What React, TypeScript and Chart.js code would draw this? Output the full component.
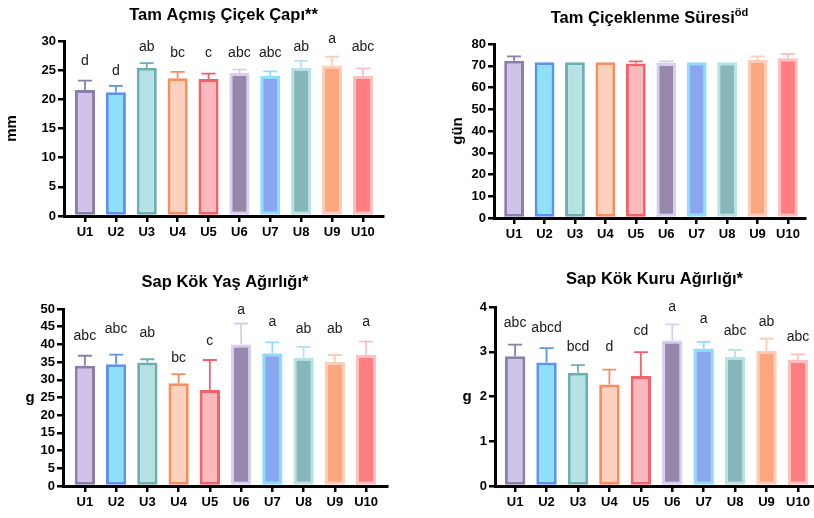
import React, { useEffect, useRef } from "react";
import { Chart, registerables } from "chart.js";

Chart.register(...registerables);

// ---------- data ----------
const categories = ["U1", "U2", "U3", "U4", "U5", "U6", "U7", "U8", "U9", "U10"];

const fills = ["#CFC3E7", "#8EE0FD", "#B7E2E4", "#FCD1BD", "#FDB9BB", "#9688AB", "#89A6EF", "#86B8BB", "#FCA680", "#FF7F80"];
const borders = ["#8C7DAA", "#5C93F2", "#6BAFB1", "#FA8D5E", "#F4616B", "#D9CEF2", "#8FDDFC", "#B8E3E5", "#FDCDB7", "#FFBFC0"];

// Tam Açmış Çiçek Çapı (mm)
const diameterMeans = [21.6, 21.2, 25.4, 23.6, 23.5, 24.5, 24.0, 25.4, 25.8, 24.0];
const diameterErrors = [1.6, 1.1, 0.8, 1.1, 0.9, 0.6, 0.8, 1.2, 1.5, 1.3];
const diameterLetters = ["d", "d", "ab", "bc", "c", "abc", "abc", "ab", "a", "abc"];
const diameterLetterLevels = [26.5, 24.9, 29.0, 28.0, 27.9, 27.9, 28.0, 29.0, 30.4, 29.0];
const diameterTicks = { max: 30, step: 5 };

// Tam Çiçeklenme Süresi (gün)
const floweringMeans = [72.3, 71.6, 71.6, 71.6, 71.0, 71.3, 71.6, 71.6, 72.6, 73.4];
const floweringErrors = [2.0, 0, 0, 0, 1.0, 0.7, 0, 0, 1.7, 2.0];
const floweringTicks = { max: 80, step: 10 };

// Sap Kök Yaş Ağırlığı (g)
const freshMeans = [34.0, 34.4, 34.9, 29.0, 27.1, 40.0, 37.5, 36.2, 35.0, 37.0];
const freshErrors = [2.8, 2.7, 0.9, 2.6, 8.5, 5.9, 3.1, 3.1, 2.0, 3.8];
const freshLetters = ["abc", "abc", "ab", "bc", "c", "a", "a", "ab", "ab", "a"];
const freshLetterLevels = [42.4, 44.2, 43.1, 36.0, 40.9, 49.7, 46.4, 44.2, 44.2, 46.4];
const freshTicks = { max: 50, step: 5 };

// Sap Kök Kuru Ağırlığı (g)
const dryMeans = [2.9, 2.76, 2.53, 2.27, 2.46, 3.25, 3.07, 2.88, 3.02, 2.82];
const dryErrors = [0.26, 0.32, 0.17, 0.33, 0.53, 0.36, 0.15, 0.16, 0.27, 0.12];
const dryLetters = ["abc", "abcd", "bcd", "d", "cd", "a", "a", "abc", "ab", "abc"];
const dryLetterLevels = [3.63, 3.53, 3.11, 3.11, 3.46, 4.0, 3.72, 3.46, 3.66, 3.33];
const dryTicks = { max: 4, step: 1 };

// ---------- layout ----------
const FONT = '"Liberation Sans", Arial, Helvetica, sans-serif';
const W = 407;
const H = 259;

type Panel = {
  key: string;
  left: number;
  top: number;
  title: string;
  sup?: string;
  titleBaseline: number;
  yLabel: string;
  yLabelRotated: boolean;
  yLabelX: number;
  means: number[];
  errors: number[];
  letters?: string[];
  letterLevels?: number[];
  yMax: number;
  yStep: number;
  xMin: number;
  xMax: number;
  area: { left: number; right: number; top: number; bottom: number };
};

const panels: Panel[] = [
  {
    key: "p1", left: 0, top: 0,
    title: "Tam Açmış Çiçek Çapı**", titleBaseline: 19.5,
    yLabel: "mm", yLabelRotated: true, yLabelX: 12,
    means: diameterMeans, errors: diameterErrors, letters: diameterLetters, letterLevels: diameterLetterLevels,
    yMax: diameterTicks.max, yStep: diameterTicks.step,
    xMin: -0.68, xMax: 9.65,
    area: { left: 64, right: 383, top: 41, bottom: 216 },
  },
  {
    key: "p2", left: 407, top: 0,
    title: "Tam Çiçeklenme Süresi", sup: "öd", titleBaseline: 22.5,
    yLabel: "gün", yLabelRotated: true, yLabelX: 51,
    means: floweringMeans, errors: floweringErrors,
    yMax: floweringTicks.max, yStep: floweringTicks.step,
    xMin: -0.66, xMax: 9.56,
    area: { left: 87, right: 398, top: 44, bottom: 218 },
  },
  {
    key: "p3", left: 0, top: 259,
    title: "Sap Kök Yaş Ağırlığı*", titleBaseline: 27.5,
    yLabel: "g", yLabelRotated: false, yLabelX: 30,
    means: freshMeans, errors: freshErrors, letters: freshLetters, letterLevels: freshLetterLevels,
    yMax: freshTicks.max, yStep: freshTicks.step,
    xMin: -0.7, xMax: 9.67,
    area: { left: 63, right: 387, top: 50, bottom: 227 },
  },
  {
    key: "p4", left: 407, top: 259,
    title: "Sap Kök Kuru Ağırlığı*", titleBaseline: 25,
    yLabel: "g", yLabelRotated: false, yLabelX: 60,
    means: dryMeans, errors: dryErrors, letters: dryLetters, letterLevels: dryLetterLevels,
    yMax: dryTicks.max, yStep: dryTicks.step,
    xMin: -0.64, xMax: 9.51,
    area: { left: 88, right: 407, top: 48, bottom: 227 },
  },
];

function makeOverlay(p: Panel) {
  return {
    id: "overlay_" + p.key,
    afterDatasetsDraw(chart: any) {
      const ctx = chart.ctx as CanvasRenderingContext2D;
      const xs = chart.scales.x;
      const ys = chart.scales.y;
      const ca = chart.chartArea;
      ctx.save();
      // error bars (upper only)
      p.means.forEach((m, i) => {
        const e = p.errors[i];
        if (!e) return;
        const x = xs.getPixelForValue(i);
        const y0 = ys.getPixelForValue(m);
        const y1 = ys.getPixelForValue(m + e);
        ctx.strokeStyle = borders[i];
        ctx.lineWidth = 1.8;
        ctx.beginPath();
        ctx.moveTo(x, y0);
        ctx.lineTo(x, y1);
        ctx.moveTo(x - 7, y1);
        ctx.lineTo(x + 7, y1);
        ctx.stroke();
      });
      // significance letters
      if (p.letters && p.letterLevels) {
        ctx.fillStyle = "#1a1a1a";
        ctx.font = `14px ${FONT}`;
        ctx.textAlign = "center";
        ctx.textBaseline = "middle";
        p.letters.forEach((t, i) => {
          ctx.fillText(t, xs.getPixelForValue(i), ys.getPixelForValue(p.letterLevels![i]));
        });
      }
      // title
      ctx.fillStyle = "#000";
      ctx.textBaseline = "alphabetic";
      ctx.textAlign = "left";
      const cx = (ca.left + ca.right) / 2;
      ctx.font = `bold 16.5px ${FONT}`;
      const tw = ctx.measureText(p.title).width;
      let sw = 0;
      if (p.sup) {
        ctx.font = `bold 11px ${FONT}`;
        sw = ctx.measureText(p.sup).width;
      }
      const start = cx - (tw + sw) / 2;
      ctx.font = `bold 16.5px ${FONT}`;
      ctx.fillText(p.title, start, p.titleBaseline);
      if (p.sup) {
        ctx.font = `bold 11px ${FONT}`;
        ctx.fillText(p.sup, start + tw, p.titleBaseline - 7);
      }
      // y label
      const cy = (ca.top + ca.bottom) / 2;
      ctx.font = `bold 15px ${FONT}`;
      ctx.textAlign = "center";
      ctx.textBaseline = "middle";
      if (p.yLabelRotated) {
        ctx.translate(p.yLabelX, cy);
        ctx.rotate(-Math.PI / 2);
        ctx.fillText(p.yLabel, 0, 0);
      } else {
        ctx.fillText(p.yLabel, p.yLabelX, cy);
      }
      ctx.restore();
    },
  };
}

function PanelChart({ p }: { p: Panel }) {
  const ref = useRef<HTMLCanvasElement | null>(null);
  useEffect(() => {
    if (!ref.current) return;
    const tickFont = { family: FONT, size: 13, weight: "bold" as const };
    const grid = {
      offset: false,
      drawOnChartArea: false,
      drawTicks: true,
      tickLength: 6,
      tickWidth: 2.5,
      tickColor: "#000",
      color: "#000",
      lineWidth: 2.5,
    };
    const border = { display: true, color: "#000", width: 3 };
    const chart = new Chart(ref.current, {
      type: "bar",
      data: {
        datasets: [
          {
            data: p.means.map((v, i) => ({ x: i, y: v })),
            backgroundColor: fills,
            borderColor: borders,
            borderWidth: 3,
            borderSkipped: false,
            categoryPercentage: 1,
            barPercentage: 0.65,
          } as any,
        ],
      },
      options: {
        responsive: false,
        animation: false,
        events: [],
        layout: {
          padding: {
            left: 0,
            top: p.area.top,
            right: W - p.area.right,
            bottom: H - p.area.bottom - 30,
          },
        },
        plugins: {
          legend: { display: false },
          tooltip: { enabled: false },
          title: { display: false },
        },
        scales: {
          x: {
            type: "linear",
            offset: false,
            min: p.xMin,
            max: p.xMax,
            z: 1,
            afterBuildTicks: (s: any) => {
              s.ticks = categories.map((_, i) => ({ value: i }));
            },
            afterFit: (s: any) => {
              s.height = 30;
            },
            ticks: {
              callback: (v: any) => categories[v as number] ?? "",
              autoSkip: false,
              maxRotation: 0,
              padding: 3,
              color: "#000",
              font: tickFont,
            },
            grid,
            border,
          },
          y: {
            min: 0,
            max: p.yMax,
            z: 1,
            afterFit: (s: any) => {
              s.width = p.area.left;
            },
            ticks: {
              stepSize: p.yStep,
              autoSkip: false,
              padding: 2,
              color: "#000",
              font: tickFont,
            },
            grid,
            border,
          },
        },
      } as any,
      plugins: [makeOverlay(p)],
    });
    return () => chart.destroy();
  }, [p]);
  return (
    <canvas
      ref={ref}
      width={W}
      height={H}
      style={{ position: "absolute", left: p.left, top: p.top, width: W, height: H }}
    />
  );
}

export default function App() {
  return (
    <div
      style={{
        position: "fixed",
        left: 0,
        top: 0,
        width: 814,
        height: 518,
        background: "#fff",
        overflow: "hidden",
      }}
    >
      {panels.map((p) => (
        <PanelChart key={p.key} p={p} />
      ))}
    </div>
  );
}
